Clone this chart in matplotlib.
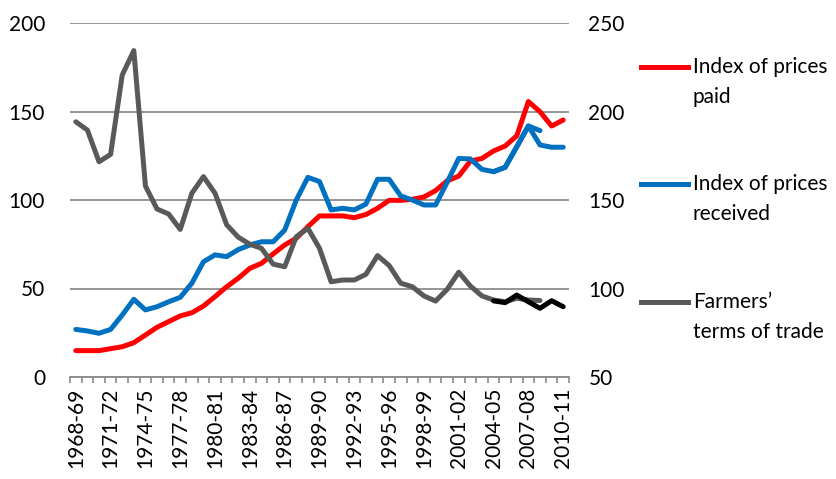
import matplotlib.pyplot as plt
import numpy as np
from matplotlib.lines import Line2D

plt.rcParams['font.family'] = ['Lato', 'DejaVu Sans']

# ---------------- data ----------------
seasons = [f"{y}-{(y + 1) % 100:02d}" for y in range(1968, 2011)]

# index of prices paid (left axis), 1968-69 .. 2010-11
paid = [14.9, 14.9, 14.9, 16.0, 17.1, 19.4, 23.7, 28.1, 31.3, 34.5,
        36.3, 40.1, 45.4, 51.0, 55.8, 61.4, 64.2, 69.5, 74.6, 78.4,
        84.9, 91.0, 91.0, 91.0, 90.0, 91.8, 95.3, 99.8, 99.8, 100.4,
        101.7, 105.3, 110.8, 113.5, 122.0, 123.5, 127.7, 130.5, 136.3, 155.6,
        149.9, 141.8, 145.2]

# index of prices received (left axis), old series 1968-69 .. 2008-09
received_old = [26.9, 26.0, 24.7, 26.9, 35.0, 43.9, 37.9, 39.7, 42.5, 45.0,
                53.0, 65.1, 69.0, 68.0, 72.0, 74.6, 76.4, 76.4, 83.0, 100.0,
                112.8, 110.4, 94.4, 95.3, 94.4, 97.7, 111.7, 111.7, 102.3, 100.0,
                97.2, 97.2, 110.0, 123.5, 123.2, 117.3, 116.0, 118.5, 130.1, 141.8,
                139.2]
# new series 2004-05 .. 2010-11
received_new = [116.0, 118.5, 130.1, 141.8, 131.1, 129.8, 129.8]

# farmers' terms of trade (right axis), old series 1968-69 .. 2008-09
tot_old = [194.2, 189.5, 171.6, 175.8, 220.6, 234.4, 157.9, 144.9, 142.1, 133.4,
           153.8, 163.2, 153.8, 136.0, 129.0, 125.0, 122.7, 113.8, 112.3, 129.3,
           134.0, 122.7, 103.8, 104.8, 104.8, 108.0, 118.6, 113.0, 103.0, 101.0,
           95.8, 92.9, 99.5, 109.2, 101.4, 95.8, 93.5, 92.5, 94.5, 93.5,
           93.2]
# new series 2004-05 .. 2010-11
tot_new = [93.0, 92.0, 96.3, 92.5, 88.8, 93.1, 89.7]

RED = '#ff0000'
BLUE = '#0070c0'
GREY = '#595959'
GRID = '#8c8c8c'
FS = 15

x_all = np.arange(len(seasons))
x_old = x_all[:len(received_old)]
x_new = x_all[len(seasons) - len(received_new):]

# ---------------- figure ----------------
fig = plt.figure(figsize=(8.36, 4.79), dpi=100)
ax = fig.add_axes([70 / 836, 1 - 377 / 479, 499 / 836, 354 / 479])
ax2 = ax.twinx()

lk = dict(lw=3.6, solid_joinstyle='round', solid_capstyle='round')
ax.plot(x_all, paid, color=RED, **lk)
ax.plot(x_old, received_old, color=BLUE, **lk)
ax.plot(x_new, received_new, color=BLUE, **lk)
ax2.plot(x_old, tot_old, color=GREY, **lk)
ax2.plot(x_new, tot_new, color='black', **lk)

ax.set_xlim(-0.5, len(seasons) - 0.5)
ax.set_ylim(0, 200)
ax2.set_ylim(50, 250)
ax.set_yticks([0, 50, 100, 150, 200])
ax2.set_yticks([50, 100, 150, 200, 250])

ax.grid(axis='y', color=GRID, lw=1.3)
ax.set_axisbelow(True)

for a in (ax, ax2):
    for s in ('top', 'left', 'right'):
        a.spines[s].set_visible(False)
    a.spines['bottom'].set_visible(False)
ax.spines['bottom'].set_visible(True)
ax.spines['bottom'].set_color(GRID)
ax.spines['bottom'].set_linewidth(1.3)

# x ticks: marks at category boundaries, labels every third season
ax.set_xticks(x_all[::3])
ax.set_xticklabels(seasons[::3], rotation=90, fontsize=FS)
ax.set_xticks(np.arange(-0.5, len(seasons)), minor=True)
ax.tick_params(axis='x', which='major', length=0, pad=8)
ax.tick_params(axis='x', which='minor', length=4, width=1.2, color=GRID)
ax.tick_params(axis='y', length=0, pad=18, labelsize=FS)
ax2.tick_params(axis='y', length=0, pad=14, labelsize=FS)

# legend drawn as in the source: handle next to first text line
legend = [(RED, ['Index of prices', 'paid'], 67),
          (BLUE, ['Index of prices', 'received'], 184),
          (GREY, ['Farmers\u2019', 'terms of trade'], 302)]
for col, lines, ypx in legend:
    yf = 1 - ypx / 479
    fig.add_artist(Line2D([641 / 836, 688 / 836], [yf, yf], color=col,
                          lw=3.6, transform=fig.transFigure))
    for k, t in enumerate(lines):
        fig.text(693 / 836, 1 - (ypx + 30 * k) / 479, t, fontsize=FS,
                 va='center', ha='left')

fig.savefig('out.png', dpi=100)
